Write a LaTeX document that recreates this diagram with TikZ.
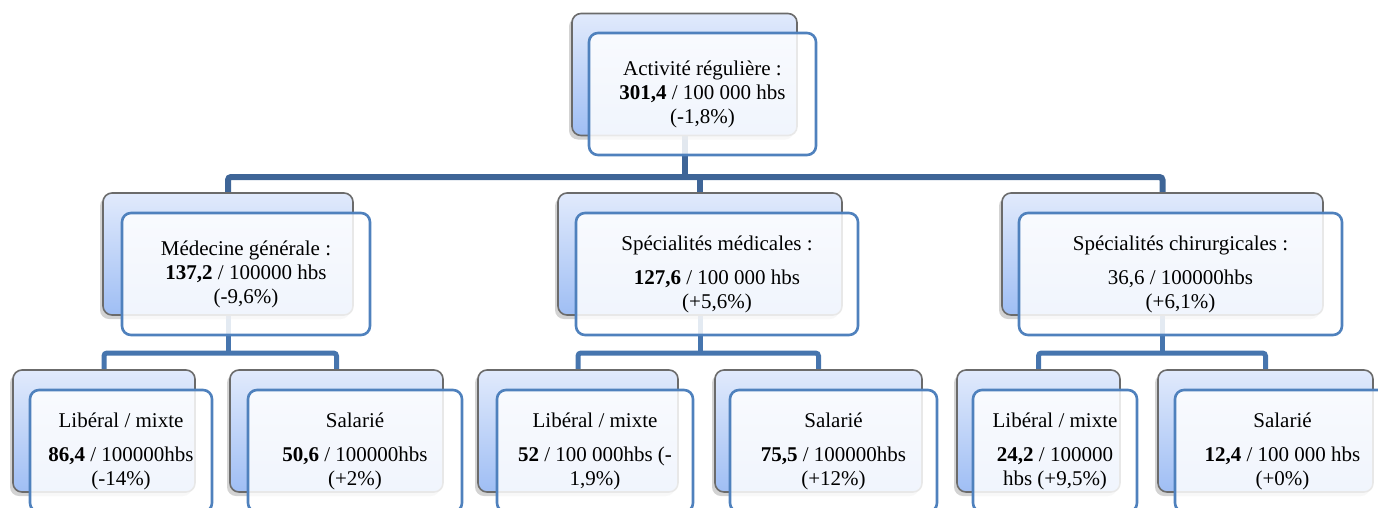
\documentclass[tikz,border=0pt]{standalone}
\usepackage{fontspec}
\setmainfont{Liberation Serif}
\usetikzlibrary{shadows,backgrounds,calc}

\definecolor{boxblue}{HTML}{4F81BD}
\definecolor{boxgray}{HTML}{6B6B6B}
\definecolor{shadetop}{HTML}{E1EAFC}
\definecolor{shadebot}{HTML}{9FBEF4}
\definecolor{linkdark}{HTML}{3E6597}
\definecolor{linkblue}{HTML}{4675AE}

\begin{document}
\begin{tikzpicture}[x=1pt, y=-1pt,
  backbox/.style={rectangle, rounded corners=9pt, draw=boxgray, line width=1.6pt, top color=shadetop, bottom color=shadebot, minimum height=122pt, drop shadow={shadow xshift=-3pt, shadow yshift=-4pt, opacity=0.35}},
  frontbox/.style={rectangle, rounded corners=9pt, draw=boxblue, line width=2.6pt, fill=white, fill opacity=0.85, text opacity=1, minimum height=122pt, align=center, font=\fontsize{21}{24}\selectfont},
  link/.style={line width=6pt, linkdark, rounded corners=3pt},
  sublink/.style={line width=5pt, linkblue, rounded corners=3pt},
]
\useasboundingbox (0,0) rectangle (1378,507);
\clip (0,0) rectangle (1378,507);

% === Top level ===
\node[backbox, minimum width=225pt] (actb) at (684.5, 74.5) {};
\node[frontbox, minimum width=227pt] (actf) at (702.5, 94) {Activité régulière :\\ \textbf{301,4} / 100 000 hbs\\ (-1,8\%)};

% === Second level ===
\node[backbox, minimum width=250pt] (genb) at (228, 254) {};
\node[frontbox, minimum width=248pt] (genf) at (246, 274) {Médecine générale :\\ \textbf{137,2} / 100000 hbs\\ (-9,6\%)};

\node[backbox, minimum width=284pt] (medb) at (700, 254) {};
\node[frontbox, minimum width=282pt] (medf) at (717, 274) {Spécialités médicales :\\[10pt] \textbf{127,6} / 100 000 hbs\\ (+5,6\%)};

\node[backbox, minimum width=321pt] (chirb) at (1162.5, 254) {};
\node[frontbox, minimum width=323pt] (chirf) at (1180.5, 274) {Spécialités chirurgicales :\\[10pt] 36,6 / 100000hbs\\ (+6,1\%)};

% === Third level ===
\node[backbox, minimum width=182pt] (glb) at (104, 431) {};
\node[frontbox, minimum width=182pt] (glf) at (121, 451) {Libéral / mixte\\[10pt] \textbf{86,4} / 100000hbs\\ (-14\%)};

\node[backbox, minimum width=213pt] (gsb) at (336.5, 431) {};
\node[frontbox, minimum width=214pt] (gsf) at (355, 451) {Salarié\\[10pt] \textbf{50,6} / 100000hbs\\ (+2\%)};

\node[backbox, minimum width=200pt] (mlb) at (578, 431) {};
\node[frontbox, minimum width=196pt] (mlf) at (595, 451) {Libéral / mixte\\[10pt] \textbf{52} / 100 000hbs (-\\ 1,9\%)};

\node[backbox, minimum width=207pt] (msb) at (818.5, 431) {};
\node[frontbox, minimum width=207pt] (msf) at (833.5, 451) {Salarié\\[10pt] \textbf{75,5} / 100000hbs\\ (+12\%)};

\node[backbox, minimum width=163pt] (clb) at (1038.5, 431) {};
\node[frontbox, minimum width=164pt] (clf) at (1055, 451) {Libéral / mixte\\[10pt] \textbf{24,2} / 100000\\ hbs (+9,5\%)};

\node[backbox, minimum width=215pt] (csb) at (1265.5, 431) {};
\node[frontbox, minimum width=215pt] (csf) at (1282.5, 451) {Salarié\\[10pt] \textbf{12,4} / 100 000 hbs\\ (+0\%)};

% === Connectors ===
\coordinate (bus) at (0, 177);
\coordinate (busg) at (0, 353);
\begin{scope}[on background layer]
  \draw[link] (actb.south) -- (actb.south |- bus);
  \draw[link] (genb.north) -- (genb.north |- bus) -- (chirb.north |- bus) -- (chirb.north);
  \draw[link] (medb.north) -- (medb.north |- bus);

  \draw[sublink] (genb.south) -- (genb.south |- busg);
  \draw[sublink] (glb.north) -- (glb.north |- busg) -- (gsb.north |- busg) -- (gsb.north);
  \draw[sublink] (medb.south) -- (medb.south |- busg);
  \draw[sublink] (mlb.north) -- (mlb.north |- busg) -- (msb.north |- busg) -- (msb.north);
  \draw[sublink] (chirb.south) -- (chirb.south |- busg);
  \draw[sublink] (clb.north) -- (clb.north |- busg) -- (csb.north |- busg) -- (csb.north);
\end{scope}

\end{tikzpicture}
\end{document}
